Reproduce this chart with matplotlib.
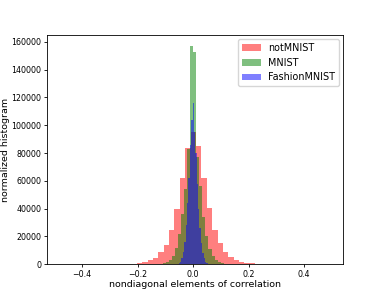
import numpy as np
import matplotlib
matplotlib.use("Agg")
import matplotlib.pyplot as plt

# bin edges (each histogram has its own 50/28/23 bins)
red_edges = np.linspace(-0.475, 0.495, 51)
green_edges = np.linspace(-0.154, 0.154, 29)
blue_edges = np.linspace(-0.0575, 0.0575, 24)

# bar heights
notmnist = [0, 0, 0, 0, 0, 0, 0, 5, 10, 20,
            40, 80, 150, 300, 600, 1200, 2600, 4600, 8400, 13700,
            24500, 39600, 61700, 83900, 95000, 85300, 61700, 40100, 24500, 15400,
            8900, 4800, 2900, 1700, 1000, 500, 300, 150, 80, 40,
            20, 10, 5, 0, 0, 0, 0, 0, 0, 5]
mnist = [40, 80, 150, 350, 700, 1500, 3000, 6000, 11500, 22000,
         36000, 54000, 83000, 157000, 153000, 77000, 56000, 34000, 20000, 11000,
         6000, 3000, 1500, 700, 350, 150, 80, 40]
fashion = [250, 700, 1800, 4000, 8500, 16000, 28000, 44000, 62000, 86000,
           104000, 116000, 95000, 80000, 58000, 40000, 26000, 15000, 8000, 4000,
           1800, 700, 250]

fig = plt.figure(figsize=(3.82, 2.97), dpi=100)
ax = fig.add_subplot(111)
fig.subplots_adjust(left=0.123, right=0.898, bottom=0.111, top=0.882)

def centers(e):
    return (e[:-1] + e[1:]) / 2

ax.hist(centers(red_edges), bins=red_edges, weights=notmnist, color='r', alpha=0.5, label='notMNIST')
ax.hist(centers(green_edges), bins=green_edges, weights=mnist, color='g', alpha=0.5, label='MNIST')
ax.hist(centers(blue_edges), bins=blue_edges, weights=fashion, color='b', alpha=0.5, label='FashionMNIST')

ax.set_xlim(-0.527, 0.54)
ax.set_ylim(0, 165000)
ax.set_xticks([-0.4, -0.2, 0.0, 0.2, 0.4])
ax.set_yticks(range(0, 160001, 20000))
ax.tick_params(labelsize=5.7, length=2.5, width=0.6, pad=1.5)
for s in ax.spines.values():
    s.set_linewidth(0.6)
ax.set_xlabel('nondiagonal elements of correlation', fontsize=6.8, labelpad=1)
ax.set_ylabel('normalized histogram', fontsize=6.8)
ax.yaxis.set_label_coords(-0.125, 0.5)
ax.legend(loc='upper right', fontsize=6.9, handlelength=2, borderaxespad=0.4)

fig.savefig('out.png', dpi=100)
